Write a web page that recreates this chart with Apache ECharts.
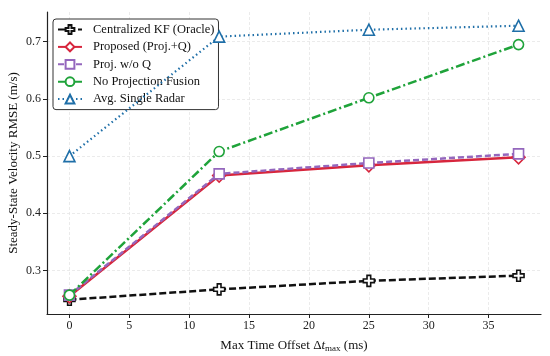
<!DOCTYPE html>
<html><head><meta charset="utf-8">
<script src="https://cdn.jsdelivr.net/npm/echarts@6/dist/echarts.min.js"></script>
<style>html,body{margin:0;padding:0;background:#fff}#c{width:550px;height:356px}</style>
</head><body><div id="c"></div>
<script>
const xValues = [0, 12.5, 25, 37.5];
const seriesNames = ['Centralized KF (Oracle)', 'Proposed (Proj.+Q)', 'Proj. w/o Q', 'No Projection Fusion', 'Avg. Single Radar'];
const centralized = [0.249, 0.267, 0.282, 0.291];
const proposed = [0.255, 0.466, 0.484, 0.498];
const projNoQ = [0.257, 0.469, 0.488, 0.504];
const noProj = [0.257, 0.508, 0.602, 0.695];
const avgSingle = [0.500, 0.709, 0.721, 0.728];
const xTicks = [0, 5, 10, 15, 20, 25, 30, 35];
const yTicks = [0.3, 0.4, 0.5, 0.6, 0.7];

const FONT = 'Liberation Serif';
const plusPath = 'path://M-1,-3H1V-1H3V1H1V3H-1V1H-3V-1H-1Z';
const styles = [
  {color: '#111111', type: [7, 3], width: 2.5, symbol: plusPath, size: 11},
  {color: '#d7263d', type: 'solid', width: 2.5, symbol: 'diamond', size: 13},
  {color: '#9467bd', type: [6, 3], width: 2.5, symbol: 'rect', size: 10},
  {color: '#1fa33a', type: [9, 3, 2, 3], width: 2.5, symbol: 'circle', size: 10},
  {color: '#1f6fa8', type: [1.5, 3], width: 2.2, symbol: 'triangle', size: 11}
];
const datasets = [centralized, proposed, projNoQ, noProj, avgSingle];

const series = datasets.map((d, i) => ({
  name: seriesNames[i],
  type: 'line',
  data: xValues.map((x, j) => [x, d[j]]),
  symbol: styles[i].symbol,
  symbolSize: styles[i].size,
  showAllSymbol: true,
  z: 2 + i,
  lineStyle: {color: styles[i].color, type: styles[i].type, width: styles[i].width},
  itemStyle: {color: '#ffffff', borderColor: styles[i].color, borderWidth: 1.6},
  emphasis: {disabled: true},
  animation: false
}));

const chart = echarts.init(document.getElementById('c'), null, {renderer: 'canvas'});
chart.setOption({
  backgroundColor: '#ffffff',
  animation: false,
  textStyle: {fontFamily: FONT},
  grid: {left: 47, right: 9, top: 12, bottom: 42, containLabel: false, outerBoundsMode: 'none'},
  legend: {
    left: 53, top: 19, orient: 'vertical',
    itemWidth: 24, itemHeight: 11, itemGap: 4.4,
    padding: [4, 4, 4, 4],
    backgroundColor: '#ffffff', borderColor: '#333333', borderWidth: 1, borderRadius: 3,
    textStyle: {fontFamily: FONT, fontSize: 12.5, color: '#111', padding: [0, 0, 0, 6]},
    data: seriesNames
  },
  xAxis: {
    type: 'value', min: -1.875, max: 39.375,
    name: '{a|Max Time Offset Δ}{i|t}{s|max}{a| (ms)}',
    nameLocation: 'middle', nameGap: 24,
    nameTextStyle: {rich: {
      a: {fontFamily: FONT, fontSize: 13, color: '#111'},
      i: {fontFamily: FONT, fontSize: 13, fontStyle: 'italic', color: '#111'},
      s: {fontFamily: FONT, fontSize: 9, color: '#111', padding: [6, 0, 0, 0]}
    }},
    axisLine: {show: true, onZero: false, lineStyle: {color: '#222', width: 1.2}},
    axisTick: {show: true, inside: false, length: 4, customValues: xTicks, lineStyle: {color: '#222'}},
    axisLabel: {customValues: xTicks, fontFamily: FONT, fontSize: 12, color: '#222', margin: 6},
    splitLine: {show: true, customValues: xTicks, lineStyle: {color: '#e6e6e6', width: 0.8, type: [3, 2]}}
  },
  yAxis: {
    type: 'value', min: 0.224, max: 0.752,
    name: 'Steady-State Velocity RMSE (m/s)',
    nameLocation: 'middle', nameGap: 27, nameMoveOverlap: false,
    nameTextStyle: {fontFamily: FONT, fontSize: 13, color: '#111'},
    axisLine: {show: true, onZero: false, lineStyle: {color: '#222', width: 1.2}},
    axisTick: {show: true, inside: false, length: 4, customValues: yTicks, lineStyle: {color: '#222'}},
    axisLabel: {customValues: yTicks, fontFamily: FONT, fontSize: 12, color: '#222', margin: 6,
      formatter: v => v.toFixed(1)},
    splitLine: {show: true, customValues: yTicks, lineStyle: {color: '#e6e6e6', width: 0.8, type: [3, 2]}}
  },
  series: series
});
</script></body></html>
